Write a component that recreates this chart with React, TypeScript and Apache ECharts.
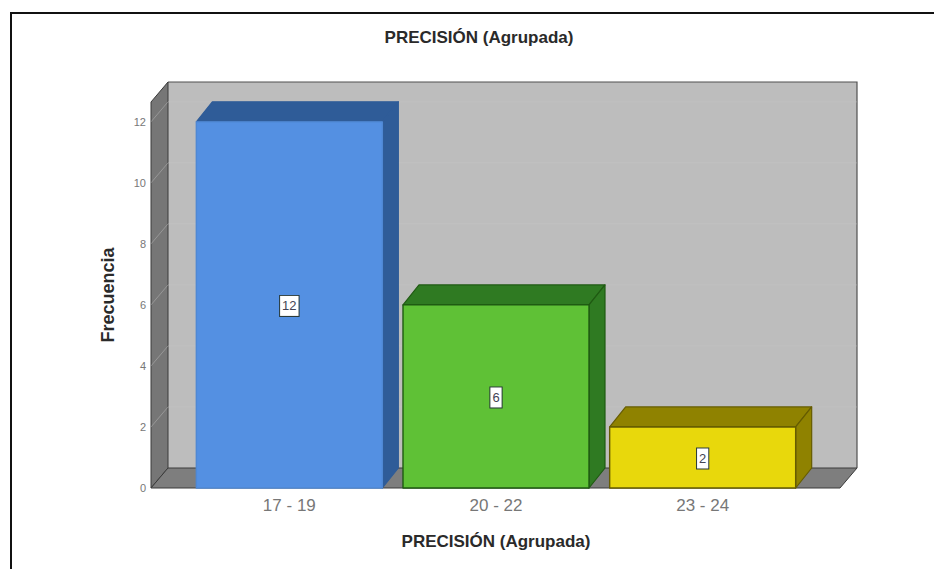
import React, { useEffect, useRef } from "react";
import * as echarts from "echarts";

const categories = ["17 - 19", "20 - 22", "23 - 24"];
const frequencies = [12, 6, 2];
const yTicks = [0, 2, 4, 6, 8, 10, 12];
const faceColors = ["#5490E2", "#5FC136", "#E8D80C"];
const darkColors = ["#2F5C98", "#2F7A22", "#8F8200"];
const edgeColors = ["#4F88D4", "#1F5A12", "#665C00"];
const chartTitle = "PRECISIÓN (Agrupada)";
const yName = "Frecuencia";

const DX = 17;
const DY = -20;
const WALL_LEFT = 151;
const WALL_RIGHT = 840;

export default function App() {
  const ref = useRef<HTMLDivElement>(null);
  useEffect(() => {
    const chart = echarts.init(ref.current!, undefined, { renderer: "svg" });
    const font = "'Liberation Sans', Arial, sans-serif";

    const renderWalls = (_p: any, api: any) => {
      const y0 = api.coord([0, 0])[1];
      const yTop = api.coord([0, 12.65])[1];
      const v = api.value(0);
      const y = api.coord([0, v])[1];
      const children: any[] = [];
      if (_p.dataIndex === 0) {
        children.push(
          { type: "polygon", shape: { points: [[WALL_LEFT + DX, yTop + DY], [WALL_RIGHT + DX, yTop + DY], [WALL_RIGHT + DX, y0 + DY], [WALL_LEFT + DX, y0 + DY]] }, style: { fill: "#BDBDBD" } },
          { type: "polyline", shape: { points: [[WALL_LEFT + DX, yTop + DY], [WALL_RIGHT + DX, yTop + DY], [WALL_RIGHT + DX, y0 + DY]] }, style: { fill: "none", stroke: "#505050", lineWidth: 1.2 } },
          { type: "polygon", shape: { points: [[WALL_LEFT, yTop], [WALL_LEFT + DX, yTop + DY], [WALL_LEFT + DX, y0 + DY], [WALL_LEFT, y0]] }, style: { fill: "#767676", stroke: "#3A3A3A", lineWidth: 1 } },
          { type: "polygon", shape: { points: [[WALL_LEFT, y0], [WALL_LEFT + DX, y0 + DY], [WALL_RIGHT + DX, y0 + DY], [WALL_RIGHT, y0]] }, style: { fill: "#7E7E7E", stroke: "#3A3A3A", lineWidth: 1 } },
        );
      }
      if (v > 0) {
        children.push(
          { type: "polyline", shape: { points: [[WALL_LEFT, y], [WALL_LEFT + DX, y + DY], [WALL_RIGHT + DX, y + DY]] }, style: { fill: "none", stroke: "#C8C8C8", lineWidth: 1, opacity: 0.4 } },
        );
      }
      return { type: "group", children };
    };

    const renderBar = (p: any, api: any) => {
      const i = api.value(0);
      const value = api.value(1);
      const [cx, top] = api.coord([i, value]);
      const base = api.coord([i, 0])[1];
      const w = api.size([1, 0])[0] * 0.9;
      const l = cx - w / 2;
      const r = cx + w / 2;
      const edge = { stroke: edgeColors[i], lineWidth: 1.4, lineJoin: "round" };
      const darkEdge = { stroke: i === 0 ? darkColors[0] : edgeColors[i], lineWidth: 1.2, lineJoin: "round" };
      const dx = DX - 1;
      return {
        type: "group",
        children: [
          { type: "polygon", shape: { points: [[l, top], [l + dx, top + DY], [r + dx, top + DY], [r, top]] }, style: { fill: darkColors[i], ...darkEdge } },
          { type: "polygon", shape: { points: [[r, top], [r + dx, top + DY], [r + dx, base + DY], [r, base]] }, style: { fill: darkColors[i], ...darkEdge } },
          { type: "rect", shape: { x: l, y: top, width: w, height: base - top }, style: { fill: faceColors[i], ...edge } },
          {
            type: "text",
            x: cx,
            y: (top + base) / 2 + 1,
            style: {
              text: String(value),
              fill: "#444455",
              font: `13px ${font}`,
              align: "center",
              verticalAlign: "middle",
              backgroundColor: "#FFFFFF",
              borderColor: "#2A3A3A",
              borderWidth: 1,
              padding: [4, 2, 3, 2],
            },
          },
        ],
      };
    };

    chart.setOption({
      animation: false,
      backgroundColor: "#FFFFFF",
      title: {
        text: chartTitle,
        left: 474,
        top: 24,
        textAlign: "center",
        textStyle: { fontFamily: font, fontSize: 17, fontWeight: "bold", color: "#2A2A2A" },
      },
      graphic: [
        { type: "polyline", silent: true, shape: { points: [[11, 569], [11, 13], [934, 13]] }, style: { fill: "none", stroke: "#111111", lineWidth: 2 } },
      ],
      grid: { left: 186, width: 620, top: 102, height: 386 },
      xAxis: {
        type: "category",
        data: categories,
        name: chartTitle,
        nameLocation: "middle",
        nameGap: 45,
        nameTextStyle: { fontFamily: font, fontSize: 17, fontWeight: "bold", color: "#2A2A2A" },
        axisLine: { show: false },
        axisTick: { show: false },
        axisLabel: { margin: 9, fontFamily: font, fontSize: 17, color: "#777777" },
      },
      yAxis: {
        type: "value",
        min: 0,
        max: 12.65,
        interval: 2,
        offset: 35,
        name: yName,
        nameLocation: "middle",
        nameGap: 34,
        nameRotate: 90,
        nameTextStyle: { fontFamily: font, fontSize: 18, fontWeight: "bold", color: "#2A2A2A" },
        axisLine: { show: false },
        axisTick: { show: false },
        splitLine: { show: false },
        axisLabel: { margin: 5, showMaxLabel: false, fontFamily: font, fontSize: 11, color: "#777777" },
      },
      series: [
        { type: "custom", z: 1, silent: true, renderItem: renderWalls, encode: { x: -1, y: 0 }, data: yTicks.map((t) => [t]) },
        { type: "custom", z: 2, silent: true, renderItem: renderBar, encode: { x: 0, y: 1 }, data: frequencies.map((f, i) => [i, f]) },
      ],
    });
    return () => chart.dispose();
  }, []);
  return <div ref={ref} style={{ position: "absolute", left: 0, top: 0, width: 934, height: 569 }} />;
}
